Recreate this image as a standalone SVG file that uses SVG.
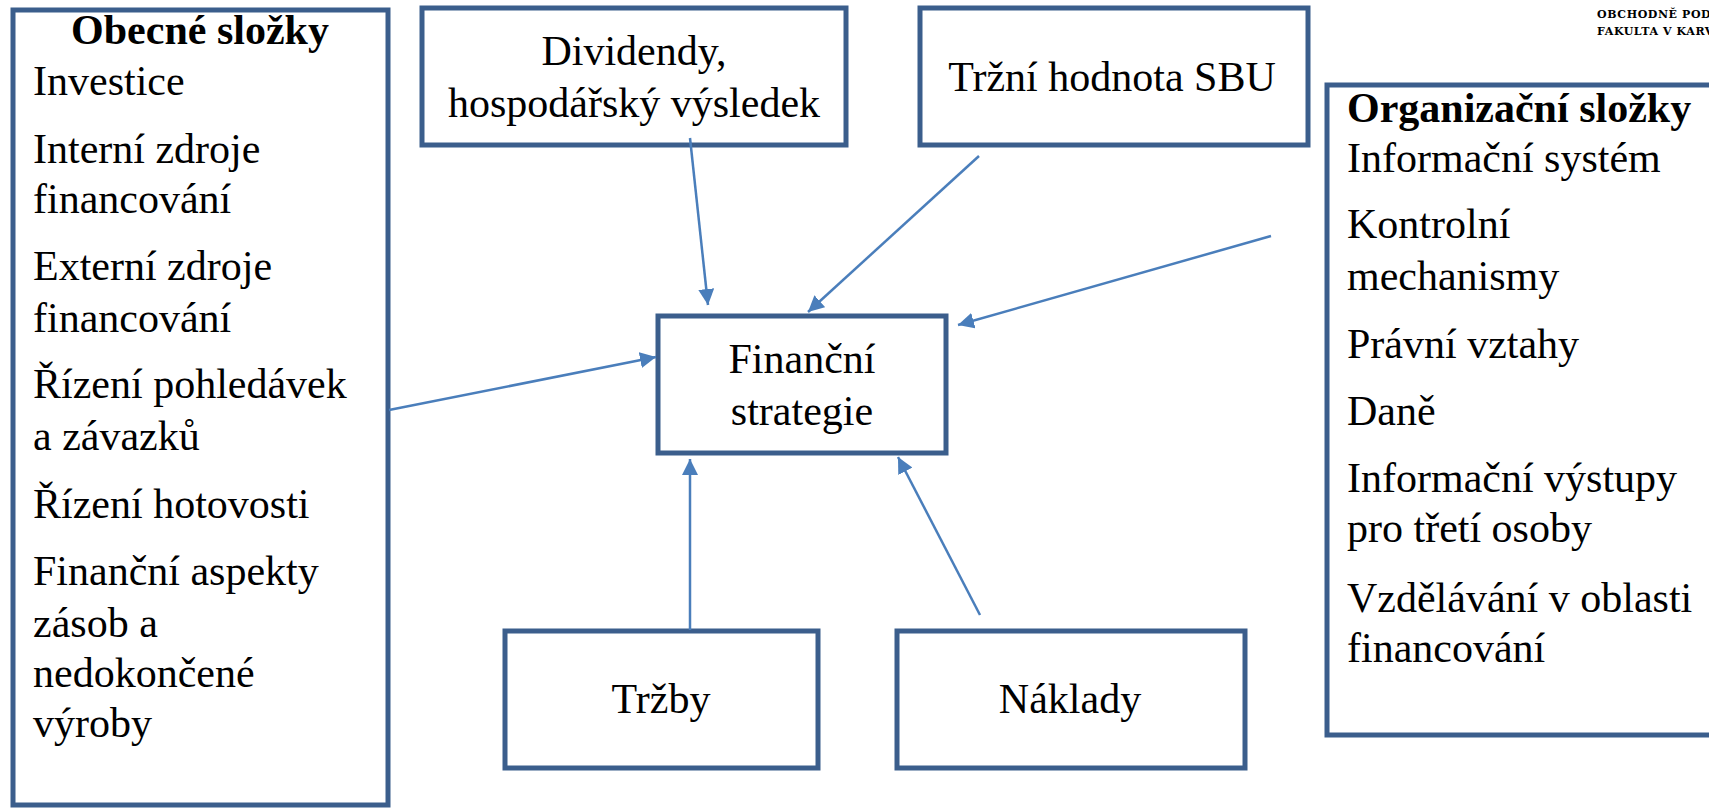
<svg xmlns="http://www.w3.org/2000/svg" width="1709" height="808" viewBox="0 0 1709 808">
<style>
.box{fill:#ffffff;stroke:#3b5e8c;stroke-width:5}
.t{font-family:"Liberation Serif","Times New Roman",serif;font-size:42px;fill:#000}
.b{font-weight:bold}
.c{text-anchor:middle}
.con{stroke:#4a7ebb;stroke-width:2.5;fill:none;marker-end:url(#ah)}
.logo{font-family:"DejaVu Serif",serif;font-weight:bold;font-size:11px;letter-spacing:0.6px;fill:#000}
</style>
<defs>
<marker id="ah" markerUnits="userSpaceOnUse" markerWidth="17" markerHeight="16" refX="16" refY="8" orient="auto">
<path d="M0,0 L16,8 L0,16 z" fill="#4a7ebb"/>
</marker>
</defs>
<rect width="1709" height="808" fill="#ffffff"/>
<g id="logo">
<text class="logo" x="1597" y="18">OBCHODNĚ PODN</text>
<text class="logo" x="1597" y="35">FAKULTA V KARV</text>
</g>
<g id="obecne">
<rect class="box" x="13" y="10" width="375" height="795"/>
<text class="t b c" x="200" y="44">Obecné složky</text>
<text class="t" x="33" y="95">Investice</text>
<text class="t" x="33" y="163">Interní zdroje</text>
<text class="t" x="33" y="213">financování</text>
<text class="t" x="33" y="280">Externí zdroje</text>
<text class="t" x="33" y="332">financování</text>
<text class="t" x="33" y="398">Řízení pohledávek</text>
<text class="t" x="33" y="450">a závazků</text>
<text class="t" x="33" y="518">Řízení hotovosti</text>
<text class="t" x="33" y="585">Finanční aspekty</text>
<text class="t" x="33" y="637">zásob a</text>
<text class="t" x="33" y="687">nedokončené</text>
<text class="t" x="33" y="737">výroby</text>
</g>
<g id="organizacni">
<rect class="box" x="1327" y="85" width="400" height="650"/>
<text class="t b" x="1347" y="122">Organizační složky</text>
<text class="t" x="1347" y="172">Informační systém</text>
<text class="t" x="1347" y="238">Kontrolní</text>
<text class="t" x="1347" y="290">mechanismy</text>
<text class="t" x="1347" y="358">Právní vztahy</text>
<text class="t" x="1347" y="425">Daně</text>
<text class="t" x="1347" y="492">Informační výstupy</text>
<text class="t" x="1347" y="542">pro třetí osoby</text>
<text class="t" x="1347" y="612">Vzdělávání v oblasti</text>
<text class="t" x="1347" y="662">financování</text>
</g>
<g id="dividendy">
<rect class="box" x="422" y="8" width="424" height="137"/>
<text class="t c" x="634" y="65">Dividendy,</text>
<text class="t c" x="634" y="117">hospodářský výsledek</text>
</g>
<g id="trzni">
<rect class="box" x="920" y="8" width="388" height="137"/>
<text class="t c" x="1112" y="91">Tržní hodnota SBU</text>
</g>
<g id="financni">
<rect class="box" x="658" y="316" width="288" height="137"/>
<text class="t c" x="802" y="373">Finanční</text>
<text class="t c" x="802" y="425">strategie</text>
</g>
<g id="trzby">
<rect class="box" x="505" y="631" width="313" height="137"/>
<text class="t c" x="661" y="713">Tržby</text>
</g>
<g id="naklady">
<rect class="box" x="897" y="631" width="348" height="137"/>
<text class="t c" x="1070" y="713">Náklady</text>
</g>
<g id="connectors">
<line class="con" x1="690" y1="138" x2="708" y2="305"/>
<line class="con" x1="979" y1="156" x2="808" y2="312"/>
<line class="con" x1="1271" y1="236" x2="958" y2="325"/>
<line class="con" x1="389" y1="410" x2="656" y2="357"/>
<line class="con" x1="690" y1="630" x2="690" y2="459"/>
<line class="con" x1="980" y1="615" x2="898" y2="457"/>
</g>
</svg>
